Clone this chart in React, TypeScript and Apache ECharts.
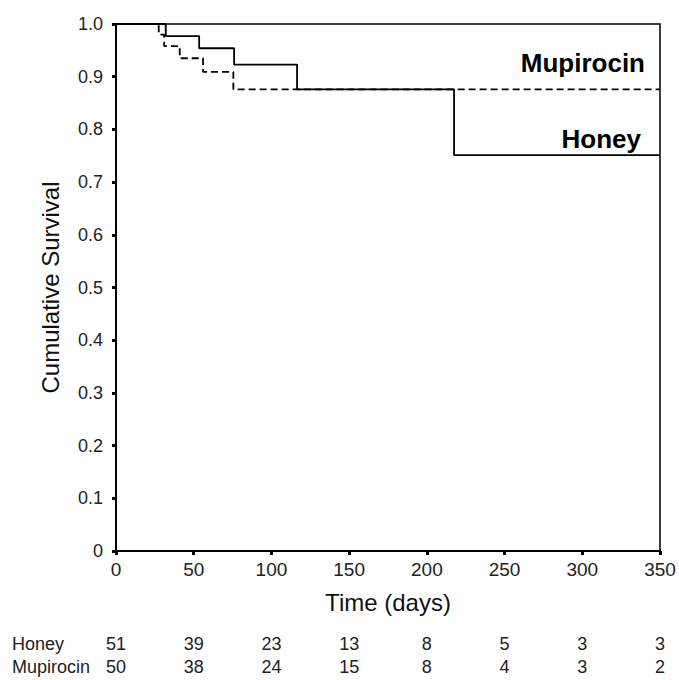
import React, { useEffect, useRef } from "react";
import * as echarts from "echarts";

const honeyTimes = [0, 32, 53.5, 76, 116.5, 217.5, 350];
const honeySurvival = [1, 0.977, 0.954, 0.923, 0.876, 0.751, 0.751];
const mupirocinTimes = [0, 27.5, 31, 41, 56, 75.5, 350];
const mupirocinSurvival = [1, 0.98, 0.958, 0.935, 0.909, 0.876, 0.876];
const xTicks = [0, 50, 100, 150, 200, 250, 300, 350];
const groups = ["Honey", "Mupirocin"];
const honeyAtRisk = [51, 39, 23, 13, 8, 5, 3, 3];
const mupirocinAtRisk = [50, 38, 24, 15, 8, 4, 3, 2];

const FONT = "'Liberation Sans', Arial, Helvetica, sans-serif";

export default function App() {
  const ref = useRef<HTMLDivElement>(null);
  useEffect(() => {
    if (!ref.current) return;
    const chart = echarts.init(ref.current, null, { renderer: "svg" });
    const honeyData = honeyTimes.map((t, i) => [t, honeySurvival[i]]);
    const mupData = mupirocinTimes.map((t, i) => [t, mupirocinSurvival[i]]);
    chart.setOption({
      animation: false,
      backgroundColor: "#fff",
      textStyle: { fontFamily: FONT },
      grid: {
        left: 116,
        right: 19,
        top: 24,
        bottom: 129,
        show: true,
        borderColor: "#000",
        borderWidth: 1.5,
        backgroundColor: "transparent",
      },
      xAxis: {
        type: "value",
        min: 0,
        max: 350,
        interval: 50,
        name: "Time (days)",
        nameLocation: "middle",
        nameGap: 39,
        nameTextStyle: { fontSize: 24, color: "#111", fontFamily: FONT },
        axisLine: { show: true, lineStyle: { color: "#000", width: 2 } },
        axisTick: { show: true, inside: false, length: 4, lineStyle: { color: "#000", width: 3 } },
        axisLabel: { fontSize: 19, color: "#222", margin: 9, fontFamily: FONT },
        splitLine: { show: false },
      },
      yAxis: {
        type: "value",
        min: 0,
        max: 1,
        interval: 0.1,
        name: "Cumulative Survival",
        nameLocation: "middle",
        nameGap: 54,
        nameTextStyle: { fontSize: 24, color: "#111", fontFamily: FONT },
        axisLine: { show: true, lineStyle: { color: "#000", width: 2 } },
        axisTick: { show: true, inside: false, length: 4, lineStyle: { color: "#000", width: 3 } },
        axisLabel: {
          fontSize: 18,
          color: "#222",
          margin: 13,
          fontFamily: FONT,
          formatter: (v: number) => (v === 0 ? "0" : v.toFixed(1)),
        },
        splitLine: { show: false },
      },
      series: [
        {
          name: "Honey",
          type: "line",
          step: "end",
          data: honeyData,
          showSymbol: false,
          symbol: "none",
          lineStyle: { color: "#000", width: 1.8, type: "solid" },
          z: 3,
        },
        {
          name: "Mupirocin",
          type: "line",
          step: "end",
          data: mupData,
          showSymbol: false,
          symbol: "none",
          lineStyle: { color: "#000", width: 1.8, type: [7, 4] },
          z: 2,
        },
      ],
    });

    const elements: any[] = [
      {
        type: "text",
        x: 645,
        y: 63,
        style: {
          text: "Mupirocin",
          font: `bold 26px ${FONT}`,
          fill: "#000",
          align: "right",
          verticalAlign: "middle",
        },
      },
      {
        type: "text",
        x: 641,
        y: 139,
        style: {
          text: "Honey",
          font: `bold 26px ${FONT}`,
          fill: "#000",
          align: "right",
          verticalAlign: "middle",
        },
      },
    ];
    const rows = [honeyAtRisk, mupirocinAtRisk];
    const rowY = [644, 667];
    groups.forEach((g, r) => {
      elements.push({
        type: "text",
        x: 12,
        y: rowY[r],
        style: { text: g, font: `18px ${FONT}`, fill: "#222", align: "left", verticalAlign: "middle" },
      });
      xTicks.forEach((t, i) => {
        const px = chart.convertToPixel({ xAxisIndex: 0 }, t) as number;
        elements.push({
          type: "text",
          x: px,
          y: rowY[r],
          style: {
            text: String(rows[r][i]),
            font: `18px ${FONT}`,
            fill: "#222",
            align: "center",
            verticalAlign: "middle",
          },
        });
      });
    });
    chart.setOption({ graphic: elements });

    return () => chart.dispose();
  }, []);
  return (
    <div
      ref={ref}
      style={{ position: "fixed", left: 0, top: 0, width: 679, height: 680, background: "#fff" }}
    />
  );
}
